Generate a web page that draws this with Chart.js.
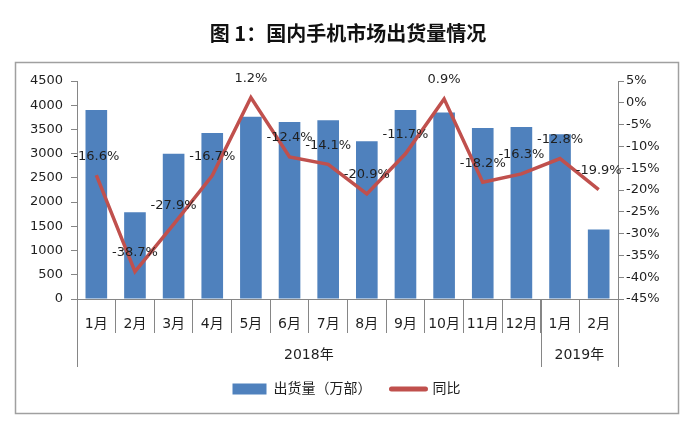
<!DOCTYPE html>
<html>
<head>
<meta charset="utf-8">
<script src="https://cdn.jsdelivr.net/npm/chart.js@4/dist/chart.umd.min.js"></script>
<style>
  html, body { margin: 0; padding: 0; background: #fff; }
</style>
</head>
<body>
<canvas id="myChart" width="690" height="431"></canvas>
<script>
// data
const months = ["1月", "2月", "3月", "4月", "5月", "6月", "7月", "8月", "9月", "10月", "11月", "12月", "1月", "2月"];
const years = ["2018年", "2019年"];
const monthsPerYear = [12, 2];
const shipments = [3900, 1790, 3000, 3428, 3760, 3656, 3691, 3256, 3900, 3851, 3532, 3553, 3400, 1437];
const yoy = [-16.6, -38.7, -27.9, -16.7, 1.2, -12.4, -14.1, -20.9, -11.7, 0.9, -18.2, -16.3, -12.8, -19.9];
const leftTicks = { min: 0, max: 4500, step: 500 };
const rightTicks = { min: -45, max: 5, step: 5 };

const FONT = "'DejaVu Sans', 'Noto Sans CJK SC', sans-serif";
const CJK = "'Noto Sans CJK SC', sans-serif";
const textColor = "#1f1f1f";
const axisColor = "#868686";
const barColor = "#4F81BD";
const lineColor = "#C0504D";

Chart.defaults.font.family = FONT;
Chart.defaults.font.size = 13;
Chart.defaults.color = textColor;

// title, frame, year row and the long separators
const decor = {
  id: "decor",
  beforeDraw(chart) {
    const ctx = chart.ctx;
    ctx.save();
    ctx.strokeStyle = "#a0a0a0";
    ctx.lineWidth = 1.5;
    ctx.strokeRect(15.5, 62.5, 663, 351);
    ctx.fillStyle = "#111";
    ctx.font = "bold 20px " + CJK;
    ctx.textAlign = "center";
    ctx.textBaseline = "middle";
    ctx.fillText("图 1：国内手机市场出货量情况", 348, 33);
    ctx.restore();
  },
  afterDraw(chart) {
    const ctx = chart.ctx;
    const x = chart.scales.x;
    const half = (x.getPixelForValue(1) - x.getPixelForValue(0)) / 2;
    const top = chart.chartArea.bottom;
    ctx.save();
    ctx.strokeStyle = axisColor;
    ctx.lineWidth = 1;
    ctx.fillStyle = textColor;
    ctx.font = "14px " + FONT;
    ctx.textAlign = "center";
    ctx.textBaseline = "middle";
    let start = 0;
    const edges = [start];
    years.forEach((yr, i) => {
      const end = start + monthsPerYear[i];
      const x0 = x.getPixelForValue(start) - half;
      const x1 = x.getPixelForValue(end - 1) + half;
      ctx.fillText(yr, (x0 + x1) / 2, 355);
      edges.push(end);
      start = end;
    });
    edges.forEach(e => {
      const px = Math.round(x.getPixelForValue(e) - half) + 0.5;
      ctx.beginPath();
      ctx.moveTo(px, top);
      ctx.lineTo(px, 367);
      ctx.stroke();
    });
    ctx.restore();
  }
};

// percentage labels above the line points
const pointLabels = {
  id: "pointLabels",
  afterDatasetsDraw(chart) {
    const ctx = chart.ctx;
    const meta = chart.getDatasetMeta(1);
    ctx.save();
    ctx.fillStyle = textColor;
    ctx.font = "13px " + FONT;
    ctx.textAlign = "center";
    ctx.textBaseline = "middle";
    meta.data.forEach((pt, i) => {
      ctx.fillText(yoy[i].toFixed(1) + "%", pt.x, pt.y - 19);
    });
    ctx.restore();
  }
};

new Chart(document.getElementById("myChart"), {
  data: {
    labels: months,
    datasets: [
      {
        type: "bar",
        label: "出货量（万部）",
        data: shipments,
        backgroundColor: barColor,
        borderWidth: 0,
        barPercentage: 0.56,
        categoryPercentage: 1,
        pointStyle: "rect",
        yAxisID: "y",
        order: 2
      },
      {
        type: "line",
        label: "同比",
        data: yoy,
        borderColor: lineColor,
        backgroundColor: lineColor,
        borderWidth: 3.5,
        tension: 0,
        pointRadius: 0,
        pointStyle: "line",
        yAxisID: "y1",
        order: 1
      }
    ]
  },
  options: {
    responsive: false,
    animation: false,
    layout: { padding: { left: 15, right: 12, top: 81, bottom: 25 } },
    plugins: {
      tooltip: { enabled: false },
      legend: {
        position: "bottom",
        labels: {
          usePointStyle: true,
          pointStyleWidth: 34,
          boxHeight: 11,
          padding: 20,
          color: textColor,
          font: { size: 14 },
          sort: (a, b) => a.datasetIndex - b.datasetIndex,
          generateLabels(chart) {
            const items = Chart.defaults.plugins.legend.labels.generateLabels(chart);
            items.forEach(it => {
              if (it.pointStyle === "line") {
                it.lineWidth = 5;
                it.strokeStyle = lineColor;
                it.lineCap = "round";
              }
            });
            return items;
          }
        }
      }
    },
    scales: {
      x: {
        offset: true,
        grid: { offset: true, drawOnChartArea: false, tickLength: 34, color: axisColor },
        border: { color: axisColor },
        ticks: { font: { size: 14 }, padding: -17, maxRotation: 0, autoSkip: false },
        afterFit: s => { s.height = 63; }
      },
      y: {
        position: "left",
        min: leftTicks.min,
        max: leftTicks.max,
        ticks: { stepSize: leftTicks.step, padding: 8, callback: v => String(v) },
        grid: { drawOnChartArea: false, tickLength: 6, color: axisColor },
        border: { color: axisColor },
        afterFit: s => { s.width = 62; }
      },
      y1: {
        position: "right",
        min: rightTicks.min,
        max: rightTicks.max,
        ticks: { stepSize: rightTicks.step, padding: 2, callback: v => v + "%" },
        grid: { drawOnChartArea: false, tickLength: 6, color: axisColor },
        border: { color: axisColor },
        afterFit: s => { s.width = 60; }
      }
    }
  },
  plugins: [decor, pointLabels]
});
</script>
</body>
</html>
